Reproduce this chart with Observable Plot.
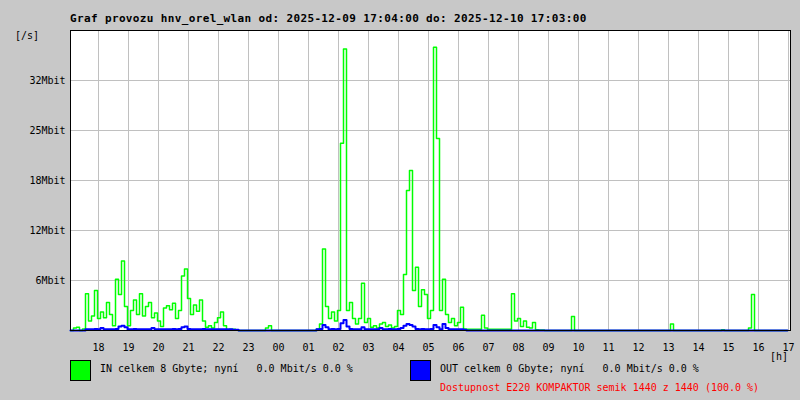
<!DOCTYPE html>
<html><head><meta charset="utf-8">
<script src="https://cdn.jsdelivr.net/npm/d3@7"></script>
<script src="https://cdn.jsdelivr.net/npm/@observablehq/plot@0.6"></script>
<style>
body{margin:0;background:#c8c8c8;}
#wrap{position:relative;width:800px;height:400px;background:#c8c8c8;overflow:hidden;}
#wrap svg{position:absolute;left:0;top:0;}
</style></head><body><div id="wrap"></div>
<script>
// ---- data (Mbit/s), one value per 6 minutes starting 2025-12-09 17:04 ----
const startTime = "2025-12-09T17:04:00Z";
const stepMinutes = 6;
const inMbit = [
0,0.3,0.4,0,0.2,4.6,1.2,1.8,5.0,1.5,
2.3,1.6,3.5,2.0,0.6,6.4,4.5,8.7,3.0,0.6,
2.5,3.8,2.0,4.6,1.8,3.0,3.5,1.6,2.2,1.2,
0.5,2.8,3.1,2.6,3.4,1.5,2.5,6.8,7.7,4.0,
2.0,3.2,2.4,3.8,1.2,0.4,0.6,0.3,1.0,1.6,
2.3,0.6,0.1,0.15,0.15,0.1,0,0,0,0,
0,0,0,0,0,0.3,0.6,0,0,0,
0,0,0,0,0,0,0,0,0,0,
0,0,0.2,0.8,10.2,3.0,1.5,2.3,1.2,2.5,
23.4,35.2,2.5,3.5,1.5,0.8,1.5,5.9,1.0,1.5,
0.4,0.6,0.3,0.8,1.0,0.5,0.7,0.3,0.5,2.5,
2.0,7.0,17.5,20.0,5.0,7.9,3.0,5.1,4.5,1.5,
2.5,35.4,24.0,2.5,6.4,2.0,1.0,1.5,0.6,1.0,
2.9,0.2,0.15,0.15,0.15,0.15,0.15,1.9,0.3,0.15,
0.15,0.15,0.15,0.15,0.15,0.15,0.15,4.6,1.2,1.5,
0.5,1.2,0.4,0.3,1.0,0.1,0.05,0.05,0,0,
0,0,0,0,0,0,0,1.75,0,0,
0,0,0,0,0,0,0,0,0,0,
0,0,0,0,0,0,0,0,0,0,
0,0,0,0,0,0,0,0,0,0,
0.8,0,0,0,0,0,0,0,0,0,
0,0,0,0,0,0,0,0.1,0,0,
0,0,0,0,0,0,0.3,4.5,0,0,
0,0,0,0,0,0,0,0,0,0
];
const outMbit = [
0,0,0,0,0,0.15,0.15,0.15,0.2,0.15,
0.3,0.15,0.15,0.15,0.15,0.2,0.5,0.6,0.4,0.15,
0.15,0.2,0.15,0.15,0.15,0.15,0.15,0.3,0.15,0.15,
0.15,0.15,0.15,0.15,0.2,0.15,0.2,0.4,0.5,0.2,
0.15,0.15,0.15,0.15,0.2,0.15,0.15,0.15,0.15,0.15,
0.15,0.15,0.15,0.15,0.1,0.1,0,0,0,0,
0,0,0,0,0,0,0,0,0,0,
0,0,0,0,0,0,0,0,0,0,
0,0,0.15,0.2,0.7,0.4,0.15,0.2,0.15,0.2,
0.9,1.3,0.5,0.2,0.15,0.15,0.15,0.4,0.15,0.15,
0.15,0.15,0.15,0.3,0.15,0.15,0.2,0.15,0.15,0.2,
0.3,0.6,0.8,0.7,0.5,0.2,0.15,0.2,0.15,0.15,
0.2,0.7,0.4,0.15,0.8,0.3,0.15,0.15,0.15,0.15,
0.15,0.1,0,0,0,0,0,0,0,0,
0,0,0,0,0,0,0,0,0,0,
0,0,0,0,0,0,0,0,0,0,
0,0,0,0,0,0,0,0,0,0,
0,0,0,0,0,0,0,0,0,0,
0,0,0,0,0,0,0,0,0,0,
0,0,0,0,0,0,0,0,0,0,
0,0,0,0,0,0,0,0,0,0,
0,0,0,0,0,0,0,0,0,0,
0,0,0,0,0,0,0,0,0,0,
0,0,0,0,0,0,0,0,0,0
];
const yTickValues = [6.25, 12.5, 18.75, 25, 31.25];
const yTickLabels = ["6Mbit", "12Mbit", "18Mbit", "25Mbit", "32Mbit"];
const yMax = 37.5;
const titleText = "Graf provozu hnv_orel_wlan od: 2025-12-09 17:04:00 do: 2025-12-10 17:03:00";
const legendIn = "IN celkem 8 Gbyte; nyní   0.0 Mbit/s 0.0 %";
const legendOut = "OUT celkem 0 Gbyte; nyní   0.0 Mbit/s 0.0 %";
const availText = "Dostupnost E220 KOMPAKTOR semik 1440 z 1440 (100.0 %)";

// ---- build ----
const t0 = new Date(startTime);
const t1 = new Date(t0.getTime() + 1440 * 60000);
const table = inMbit.map((v, i) => ({
  t: new Date(t0.getTime() + i * stepMinutes * 60000),
  inV: v,
  outV: outMbit[i]
}));
const hourTicks = d3.utcHours(t0, t1);
const yLabelMap = new Map(yTickValues.map((v, i) => [v, yTickLabels[i]]));
const FONT = "DejaVu Sans Mono, monospace";

const chart = Plot.plot({
  width: 800, height: 400,
  marginLeft: 70, marginRight: 10, marginTop: 30, marginBottom: 70,
  style: {background: "transparent", fontFamily: FONT, fontSize: "10px", color: "#000"},
  x: {type: "utc", domain: [t0, t1]},
  y: {domain: [0, yMax]},
  marks: [
    Plot.frame({fill: "#ffffff", stroke: null}),
    Plot.ruleX(hourTicks, {stroke: "#c0c0c0", strokeWidth: 1}),
    Plot.ruleY(yTickValues, {stroke: "#c0c0c0", strokeWidth: 1}),
    Plot.line(table, {x: "t", y: "inV", stroke: "#00ff00", strokeWidth: 1.5, curve: "step-after"}),
    Plot.line(table, {x: "t", y: "outV", stroke: "#0000ff", strokeWidth: 2, curve: "step-after"}),
    Plot.frame({stroke: "#000000", strokeWidth: 1}),
    Plot.axisX(hourTicks, {tickSize: 0, tickPadding: 13, tickFormat: d3.utcFormat("%H"), label: null, fill: "#000"}),
    Plot.axisY(yTickValues, {tickSize: 0, tickPadding: 5, tickFormat: d => yLabelMap.get(d), label: null, fill: "#000"})
  ]
});
const wrap = document.getElementById("wrap");
wrap.appendChild(chart);

// ---- title, units and legend ----
const ov = d3.select(wrap).append("svg")
  .attr("width", 800).attr("height", 400)
  .style("font-family", FONT).style("pointer-events", "none");
function txt(x, y, s, opts = {}) {
  const t = ov.append("text").attr("x", x).attr("y", y)
    .style("font-size", (opts.size || 10) + "px")
    .style("font-weight", opts.bold ? "bold" : "normal")
    .attr("fill", opts.fill || "#000")
    .style("white-space", "pre")
    .text(s);
  if (opts.spacing) t.style("letter-spacing", opts.spacing + "px");
  return t;
}
txt(70, 22, titleText, {bold: true, size: 11, spacing: 0.36});
txt(15, 39, "[/s]");
txt(770, 360, "[h]");
ov.append("rect").attr("x", 70.5).attr("y", 360.5).attr("width", 20).attr("height", 20)
  .attr("fill", "#00ff00").attr("stroke", "#000");
txt(100, 372, legendIn);
ov.append("rect").attr("x", 410.5).attr("y", 360.5).attr("width", 20).attr("height", 20)
  .attr("fill", "#0000ff").attr("stroke", "#000");
txt(440, 372, legendOut);
txt(440, 391, availText, {fill: "#ff0000"});
</script>
</body></html>
